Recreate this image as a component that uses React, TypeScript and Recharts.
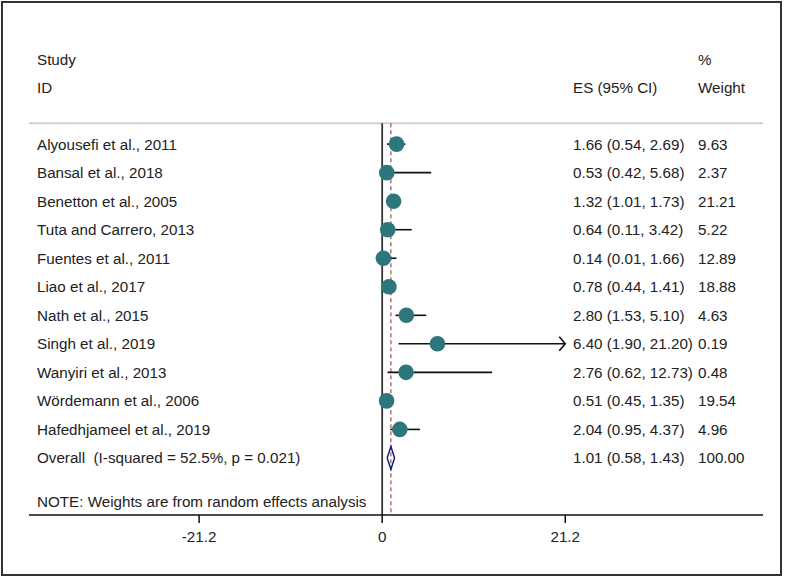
import React from 'react';
import {
  ComposedChart,
  Scatter,
  XAxis,
  YAxis,
  ReferenceLine,
} from 'recharts';

const studies = [
  'Alyousefi et al., 2011',
  'Bansal et al., 2018',
  'Benetton et al., 2005',
  'Tuta and Carrero, 2013',
  'Fuentes et al., 2011',
  'Liao et al., 2017',
  'Nath et al., 2015',
  'Singh et al., 2019',
  'Wanyiri et al., 2013',
  'Wördemann et al., 2006',
  'Hafedhjameel et al., 2019',
];
const es = [1.66, 0.53, 1.32, 0.64, 0.14, 0.78, 2.8, 6.4, 2.76, 0.51, 2.04];
const ciLow = [0.54, 0.42, 1.01, 0.11, 0.01, 0.44, 1.53, 1.9, 0.62, 0.45, 0.95];
const ciHigh = [2.69, 5.68, 1.73, 3.42, 1.66, 1.41, 5.1, 21.2, 12.73, 1.35, 4.37];
const weights = ['9.63', '2.37', '21.21', '5.22', '12.89', '18.88', '4.63', '0.19', '0.48', '19.54', '4.96'];

const overallLabel = 'Overall\u00a0\u00a0(I-squared = 52.5%, p = 0.021)';
const overall = { es: 1.01, lo: 0.58, hi: 1.43, weight: '100.00' };
const noteText = 'NOTE: Weights are from random effects analysis';
const xTicks = [-21.2, 0, 21.2];

const fmt = (v: number) => v.toFixed(2);

const rows = studies.map((name, i) => ({
  x: es[i],
  y: i,
  name,
  ci: `${fmt(es[i])} (${fmt(ciLow[i])}, ${fmt(ciHigh[i])})`,
  weight: weights[i],
}));

const overallRow = studies.length;
const diamond = [
  { x: overall.lo, y: overallRow },
  { x: overall.es, y: overallRow - 0.4 },
  { x: overall.hi, y: overallRow },
  { x: overall.es, y: overallRow + 0.4 },
  { x: overall.lo, y: overallRow },
];

const FONT = '"Liberation Sans", Arial, sans-serif';
const FS = 15.2;
const TEAL = '#2d777c';
const LABEL_X = 37;
const CI_X = 573;
const WT_X = 698;

const Txt = ({ x, y, children }: any) => (
  <text x={x} y={y} dy="0.36em" fontSize={FS} fontFamily={FONT} fill="#222">
    {children}
  </text>
);

const StudyMark = (props: any) => {
  const { cx, cy, payload } = props;
  return (
    <g>
      <circle cx={cx} cy={cy} r={7.8} fill={TEAL} />
      <Txt x={LABEL_X} y={cy}>{payload.name}</Txt>
      <Txt x={CI_X} y={cy}>{payload.ci}</Txt>
      <Txt x={WT_X} y={cy}>{payload.weight}</Txt>
    </g>
  );
};

const CiLine = (arrow: boolean) => (props: any) => {
  const { x1, y1, x2, y2 } = props;
  return (
    <g>
      <line x1={x1} y1={y1} x2={x2} y2={y2} stroke="#111" strokeWidth={1.6} />
      {arrow && (
        <polyline
          points={`${x2 - 6},${y2 - 7} ${x2},${y2} ${x2 - 6},${y2 + 7}`}
          fill="none"
          stroke="#111"
          strokeWidth={1.6}
        />
      )}
    </g>
  );
};

const OverallText = (props: any) => {
  const { cy } = props;
  return (
    <g>
      <Txt x={LABEL_X} y={cy}>{overallLabel}</Txt>
      <Txt x={CI_X} y={cy}>{`${fmt(overall.es)} (${fmt(overall.lo)}, ${fmt(overall.hi)})`}</Txt>
      <Txt x={WT_X} y={cy}>{overall.weight}</Txt>
      <Txt x={LABEL_X} y={cy + 44}>{noteText}</Txt>
    </g>
  );
};

export default function App() {
  return (
    <div style={{ position: 'relative', width: 786, height: 579, background: '#fff' }}>
      <style>{'body{margin:0;}'}</style>
      <ComposedChart
        width={786}
        height={579}
        margin={{ top: 30, right: 23, bottom: 0, left: 29 }}
      >
        <XAxis
          type="number"
          dataKey="x"
          domain={[-40.9, 44.1]}
          ticks={xTicks}
          allowDataOverflow
          axisLine={{ stroke: '#111', strokeWidth: 1.5 }}
          tickLine={{ stroke: '#111', strokeWidth: 1.5 }}
          tickSize={8}
          tick={{ fontSize: FS, fontFamily: FONT, fill: '#222', dy: 6 }}
          tickFormatter={(v: number) => String(v)}
          height={64}
        />
        <YAxis type="number" dataKey="y" domain={[-4, 13]} reversed hide />
        <ReferenceLine
          segment={[{ x: -40.9, y: -0.73 }, { x: 44.1, y: -0.73 }]}
          stroke="#d0d0d0"
          strokeWidth={2}
        />
        <ReferenceLine
          segment={[{ x: 0, y: -0.73 }, { x: 0, y: 13 }]}
          stroke="#333"
          strokeWidth={1.8}
        />
        <ReferenceLine
          segment={[{ x: overall.es, y: -0.73 }, { x: overall.es, y: 13 }]}
          stroke="#8c2a2a"
          strokeWidth={1}
          strokeDasharray="4 3"
        />
        {studies.map((s, i) => (
          <ReferenceLine
            key={s}
            segment={[{ x: ciLow[i], y: i }, { x: ciHigh[i], y: i }]}
            shape={CiLine(s.startsWith('Singh'))}
          />
        ))}
        <Scatter data={rows} shape={StudyMark} isAnimationActive={false} />
        <Scatter
          data={diamond}
          line={{ stroke: '#1c1c78', strokeWidth: 1.5 }}
          shape={() => <g />}
          isAnimationActive={false}
        />
        <Scatter
          data={[{ x: overall.es, y: overallRow }]}
          shape={OverallText}
          isAnimationActive={false}
        />
      </ComposedChart>
      <svg
        width={786}
        height={579}
        style={{ position: 'absolute', left: 0, top: 0, pointerEvents: 'none' }}
      >
        <rect x={2} y={2} width={779} height={573} fill="none" stroke="#333" strokeWidth={2} />
        <Txt x={LABEL_X} y={60}>Study</Txt>
        <Txt x={LABEL_X} y={88}>ID</Txt>
        <Txt x={CI_X} y={88}>ES (95% CI)</Txt>
        <Txt x={WT_X} y={60}>%</Txt>
        <Txt x={WT_X} y={88}>Weight</Txt>
      </svg>
    </div>
  );
}
